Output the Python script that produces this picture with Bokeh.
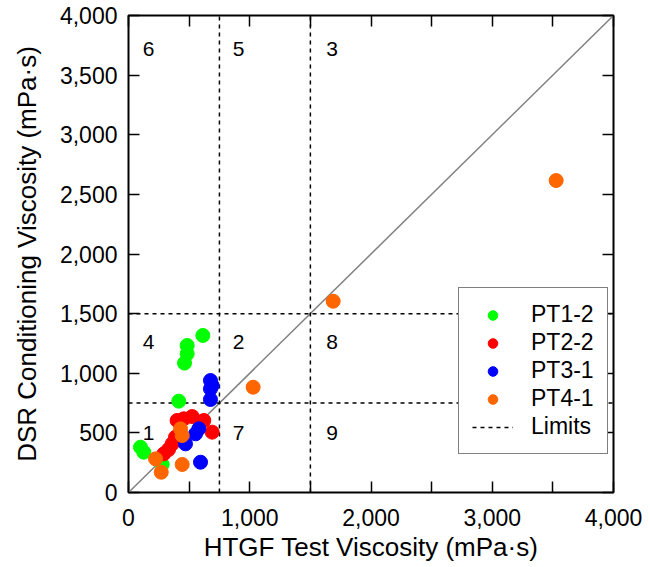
from bokeh.plotting import figure
from bokeh.models import (Legend, LegendItem, FixedTicker, NumeralTickFormatter,
                          LinearAxis, Label, Range1d, ColumnDataSource, CustomLabelingPolicy)
from bokeh.embed import file_html
from bokeh.resources import INLINE

series_names = ["PT1-2", "PT2-2", "PT3-1", "PT4-1"]
series_colors = ["#00ff00", "#ff0000", "#0000ff", "#ff6600"]

pt12_x = [613, 484, 484, 462, 415, 99, 126, 278]
pt12_y = [1317, 1233, 1163, 1085, 766, 380, 338, 235]

pt22_x = [291, 330, 360, 388, 430, 401, 456, 525, 621, 690]
pt22_y = [324, 360, 408, 464, 440, 604, 618, 637, 604, 506]

pt31_x = [676, 690, 676, 676, 580, 553, 470, 594]
pt31_y = [939, 897, 869, 780, 534, 492, 408, 254]

pt41_x = [429, 443, 223, 270, 443, 1028, 1688, 3527]
pt41_y = [534, 478, 282, 170, 235, 883, 1604, 2616]

limits = [750, 1500]
axis_max = 4000
x_major_ticks = [0, 1000, 2000, 3000, 4000]
x_minor_ticks = [500, 1500, 2500, 3500]
y_major_ticks = [0, 500, 1000, 1500, 2000, 2500, 3000, 3500, 4000]
region_labels = ["1", "2", "3", "4", "5", "6", "7", "8", "9"]

FONT = "Liberation Sans"

p = figure(width=650, height=567, x_range=Range1d(0, axis_max), y_range=Range1d(0, axis_max),
           output_backend="svg", toolbar_location=None,
           min_border_left=128, min_border_right=37, min_border_top=15, min_border_bottom=75,
           x_axis_type=None, y_axis_type=None)
p.xgrid.visible = False
p.ygrid.visible = False
p.outline_line_color = "black"
p.outline_line_width = 2
p.background_fill_color = "white"
p.border_fill_color = "white"

hide_labels = CustomLabelingPolicy(code="""
try { return new indices.constructor(indices.size, 0); } catch (e) {}
try { for (const i of Array.from(indices)) { indices.unset(i); } return indices; } catch (e) {}
return indices;
""")


def style_axis(ax, ticker, show_labels, label=None):
    ax.ticker = ticker
    ax.axis_line_color = None
    ax.major_tick_in = 11
    ax.major_tick_out = 0
    ax.minor_tick_in = 11
    ax.minor_tick_out = 0
    ax.major_tick_line_color = "black"
    ax.minor_tick_line_color = "black"
    ax.major_tick_line_width = 1.5
    ax.minor_tick_line_width = 1.5
    ax.formatter = NumeralTickFormatter(format="0,0")
    ax.major_label_text_font = FONT
    ax.major_label_text_color = "black"
    if show_labels:
        ax.major_label_text_font_size = "23px"
    else:
        ax.major_label_text_font_size = "1px"
        ax.major_label_standoff = 0
        ax.major_label_policy = hide_labels
    if label:
        ax.axis_label = label
        ax.axis_label_text_font = FONT
        ax.axis_label_text_font_size = "26px"
        ax.axis_label_text_font_style = "normal"
        ax.axis_label_text_color = "black"


xt = FixedTicker(ticks=x_major_ticks, minor_ticks=x_minor_ticks)
yt = FixedTicker(ticks=y_major_ticks, minor_ticks=[])

xb = LinearAxis()
style_axis(xb, xt, True, "HTGF Test Viscosity (mPa\u00b7s)")
xb.major_label_standoff = 16
xb.axis_label_standoff = 3
p.add_layout(xb, "below")

yl = LinearAxis()
style_axis(yl, yt, True, "DSR Conditioning Viscosity (mPa\u00b7s)")
yl.major_label_standoff = 11
yl.axis_label_standoff = 15
p.add_layout(yl, "left")

xtop = LinearAxis()
style_axis(xtop, FixedTicker(ticks=x_major_ticks, minor_ticks=x_minor_ticks), False)
p.add_layout(xtop, "above")

yr = LinearAxis()
style_axis(yr, FixedTicker(ticks=y_major_ticks, minor_ticks=[]), False)
p.add_layout(yr, "right")

# diagonal 1:1 line
p.line(x=[0, axis_max], y=[0, axis_max], line_color="#808080", line_width=1.5)

# limit lines
lim_xs, lim_ys = [], []
for lim in limits:
    lim_xs.append([lim, lim]); lim_ys.append([0, axis_max])
    lim_xs.append([0, axis_max]); lim_ys.append([lim, lim])
lim_r = p.multi_line(xs=lim_xs, ys=lim_ys, line_color="black", line_width=1.5, line_dash="4 4")

# region labels
lo, hi = limits
rx = [lo * 0.22, lo * 1.21, hi * 1.12]
ry = [lo * 0.67, hi * 0.84, 3720]
pos = {"1": (0, 0), "7": (1, 0), "9": (2, 0), "4": (0, 1), "2": (1, 1), "8": (2, 1),
       "6": (0, 2), "5": (1, 2), "3": (2, 2)}
for lab in region_labels:
    i, j = pos[lab]
    p.add_layout(Label(x=rx[i], y=ry[j], text=lab, text_font=FONT, text_font_size="21px",
                       text_color="black", text_align="center", text_baseline="middle"))

series = [(pt12_x, pt12_y), (pt22_x, pt22_y), (pt31_x, pt31_y), (pt41_x, pt41_y)]
renderers = []
for (xs, ys), c in zip(series, series_colors):
    src = ColumnDataSource(dict(x=xs, y=ys))
    r = p.scatter("x", "y", source=src, marker="circle", size=14, fill_color=c, line_color=c)
    renderers.append(r)

items = [LegendItem(label=n, renderers=[r]) for n, r in zip(series_names, renderers)]
items.append(LegendItem(label="Limits", renderers=[lim_r]))
legend = Legend(items=items, location=(330, 38), orientation="vertical",
                label_text_font=FONT, label_text_font_size="23px", label_text_color="black",
                glyph_width=41, glyph_height=24, label_height=24, spacing=1,
                padding=13, margin=0, label_standoff=18,
                border_line_color="black", border_line_width=1.5,
                background_fill_color="white", background_fill_alpha=1)
p.add_layout(legend, "center")

open("out.html", "w").write(file_html(p, INLINE))
